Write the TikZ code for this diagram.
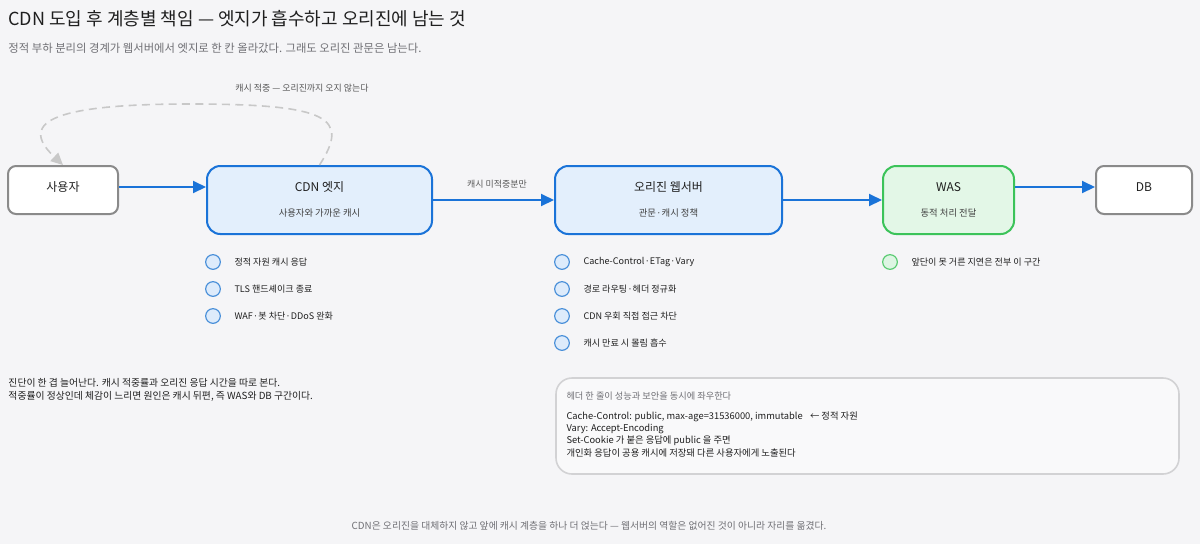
\documentclass[tikz,border=0pt]{standalone}
\usepackage{fontspec}
\setmainfont{Noto Sans CJK KR}
\newfontfamily\dotfont{Noto Sans}
\newcommand{\sepdot}{{\dotfont\,·\,}}
\usetikzlibrary{arrows.meta}

\definecolor{pagebg}{HTML}{F5F5F7}
\definecolor{ink}{HTML}{1F1F1F}
\definecolor{mute}{HTML}{707075}
\definecolor{edgeblue}{HTML}{1A73D8}
\definecolor{edgefill}{HTML}{E3EFFC}
\definecolor{wasgreen}{HTML}{3CC35A}
\definecolor{wasfill}{HTML}{E3F7E7}
\definecolor{plainline}{HTML}{8A8A8A}
\definecolor{hitline}{HTML}{C8C8C8}
\definecolor{dotblue}{HTML}{4A90D9}
\definecolor{dotbluefill}{HTML}{DDEBFB}
\definecolor{dotgreen}{HTML}{5ACB72}
\definecolor{dotgreenfill}{HTML}{DDF5E3}
\definecolor{notebox}{HTML}{D2D2D4}

\tikzset{every picture/.style={line width=0.75pt}}
\tikzset{
  plainbox/.style={draw=plainline, fill=white, line width=1.5pt, rounded corners=6pt, inner sep=0pt},
  tierbox/.style={draw=edgeblue, fill=edgefill, line width=1.5pt, rounded corners=10pt, inner sep=0pt},
  wasbox/.style={draw=wasgreen, fill=wasfill, line width=1.5pt, rounded corners=10pt, inner sep=0pt},
  boxtitle/.style={inner sep=0.75pt, text=ink, font=\fontsize{9pt}{11pt}\selectfont},
  boxsub/.style={inner sep=0.75pt, text=ink!85, font=\fontsize{7pt}{8pt}\selectfont},
  flow/.style={draw=edgeblue, line width=1.5pt, -{Triangle[length=9.75pt,width=9pt]}},
  hitflow/.style={draw=hitline, line width=1.2pt, dash pattern=on 6pt off 4pt, -{Triangle[length=9pt,width=8.5pt]}},
  bulletb/.style={circle, draw=dotblue, fill=dotbluefill, line width=0.9pt, minimum size=11pt, inner sep=0pt},
  bulletg/.style={circle, draw=dotgreen, fill=dotgreenfill, line width=0.9pt, minimum size=11pt, inner sep=0pt},
  item/.style={anchor=west, inner sep=0.75pt, text=ink, font=\fontsize{6.8pt}{8pt}\selectfont},
  smalllabel/.style={inner sep=0.75pt, text=ink!75, font=\fontsize{6.7pt}{8pt}\selectfont},
  noteline/.style={anchor=west, inner sep=0.75pt, text=ink, font=\fontsize{7.35pt}{8pt}\selectfont}
}

\begin{document}
\begin{tikzpicture}[x=0.75pt,y=0.75pt,yscale=-1,xscale=1]
\useasboundingbox[fill=pagebg] (0,0) rectangle (1200,544);

% Text Node
\node [anchor=west, inner sep=0.75pt, text=ink, font=\fontsize{13.5pt}{15pt}\selectfont] (title) at (7,19) {CDN 도입 후 계층별 책임 — 엣지가 흡수하고 오리진에 남는 것};
% Text Node
\node [anchor=west, inner sep=0.75pt, text=mute, font=\fontsize{8.5pt}{10pt}\selectfont] (subtitle) at (7,48) {정적 부하 분리의 경계가 웹서버에서 엣지로 한 칸 올라갔다. 그래도 오리진 관문은 남는다.};

%Rounded Rect: tiers
\node [plainbox, minimum width=82.5pt, minimum height=36pt] (user) at (63,190) {};
\node [tierbox, minimum width=168.75pt, minimum height=51pt] (cdn) at (319.5,200) {};
\node [tierbox, minimum width=170.25pt, minimum height=51pt] (origin) at (668.5,200) {};
\node [wasbox, minimum width=98.25pt, minimum height=51pt] (was) at (948.5,200) {};
\node [plainbox, minimum width=72pt, minimum height=36pt] (db) at (1144,190) {};

% Text Node
\node [boxtitle] (usert) at (63,187) {사용자};
\node [boxtitle] (cdnt) at (319.5,187) {CDN 엣지};
\node [boxsub] (cdns) at (319.5,213) {사용자와 가까운 캐시};
\node [boxtitle] (origint) at (668.5,187) {오리진 웹서버};
\node [boxsub] (origins) at (668.5,213) {관문\sepdot 캐시 정책};
\node [boxtitle] (wast) at (948.5,187) {WAS};
\node [boxsub] (wass) at (948.5,213) {동적 처리 전달};
\node [boxtitle] (dbt) at (1144,187) {DB};

%Straight Lines
\draw [flow] ([yshift=-2.25pt]user.east) -- ([yshift=-2.25pt]user.east -| cdn.west);
\draw [flow] (cdn.east) -- (origin.west);
\draw [flow] (origin.east) -- (was.west);
\draw [flow] ([yshift=-2.25pt]db.west -| was.east) -- ([yshift=-2.25pt]db.west);

% Text Node
\node [smalllabel] (misslabel) at (497,184) {캐시 미적중분만};

%Curve Lines: cache hit returns from the edge
\draw [hitflow] (cdn.north) .. controls (350,118) and (330,104) .. (190,104) .. controls (60,104) and (15,120) .. (user.north);
% Text Node
\node [smalllabel] (hitlabel) at (302,88) {캐시 적중 — 오리진까지 오지 않는다};

%Shape: Circle + Text Node (edge duties)
\node [bulletb] (e1) at (213,262) {};
\node [item] at (233,262) {정적 자원 캐시 응답};
\node [bulletb] (e2) at (213,289) {};
\node [item] at (233,289) {TLS 핸드셰이크 종료};
\node [bulletb] (e3) at (213,316) {};
\node [item] at (233,316) {WAF\sepdot 봇 차단\sepdot DDoS 완화};

%Shape: Circle + Text Node (origin duties)
\node [bulletb] (o1) at (562,262) {};
\node [item] at (582,262) {Cache-Control\sepdot ETag\sepdot Vary};
\node [bulletb] (o2) at (562,289) {};
\node [item] at (582,289) {경로 라우팅\sepdot 헤더 정규화};
\node [bulletb] (o3) at (562,316) {};
\node [item] at (582,316) {CDN 우회 직접 접근 차단};
\node [bulletb] (o4) at (562,343) {};
\node [item] at (582,343) {캐시 만료 시 몰림 흡수};

%Shape: Circle + Text Node (was duty)
\node [bulletg] (w1) at (890,262) {};
\node [item] at (910,262) {앞단이 못 거른 지연은 전부 이 구간};

% Text Node
\node [noteline] (diag1) at (7,383) {진단이 한 겹 늘어난다. 캐시 적중률과 오리진 응답 시간을 따로 본다.};
\node [noteline] (diag2) at (7,396) {적중률이 정상인데 체감이 느리면 원인은 캐시 뒤편, 즉 WAS와 DB 구간이다.};

%Rounded Rect: header note
\draw [draw=notebox, fill=pagebg!60!white, line width=1.2pt, rounded corners=12pt] (556,378) rectangle (1179,474);
\node [noteline, text=mute, font=\fontsize{6.9pt}{8pt}\selectfont] (hdrhead) at (565,396) {헤더 한 줄이 성능과 보안을 동시에 좌우한다};
\node [noteline, font=\fontsize{7pt}{8pt}\selectfont] (hdr1) at (565,417) {Cache-Control: public, max-age=31536000, immutable\hspace{5.5pt}← 정적 자원};
\node [noteline, font=\fontsize{7pt}{8pt}\selectfont] (hdr2) at (565,429) {Vary: Accept-Encoding};
\node [noteline, font=\fontsize{7pt}{8pt}\selectfont] (hdr3) at (565,441) {Set-Cookie 가 붙은 응답에 public 을 주면};
\node [noteline, font=\fontsize{7pt}{8pt}\selectfont] (hdr4) at (565,453) {개인화 응답이 공용 캐시에 저장돼 다른 사용자에게 노출된다};

% Text Node
\node [inner sep=0.75pt, text=mute, font=\fontsize{7.35pt}{8pt}\selectfont] (footer) at (589,526) {CDN은 오리진을 대체하지 않고 앞에 캐시 계층을 하나 더 얹는다 — 웹서버의 역할은 없어진 것이 아니라 자리를 옮겼다.};

\end{tikzpicture}
\end{document}
